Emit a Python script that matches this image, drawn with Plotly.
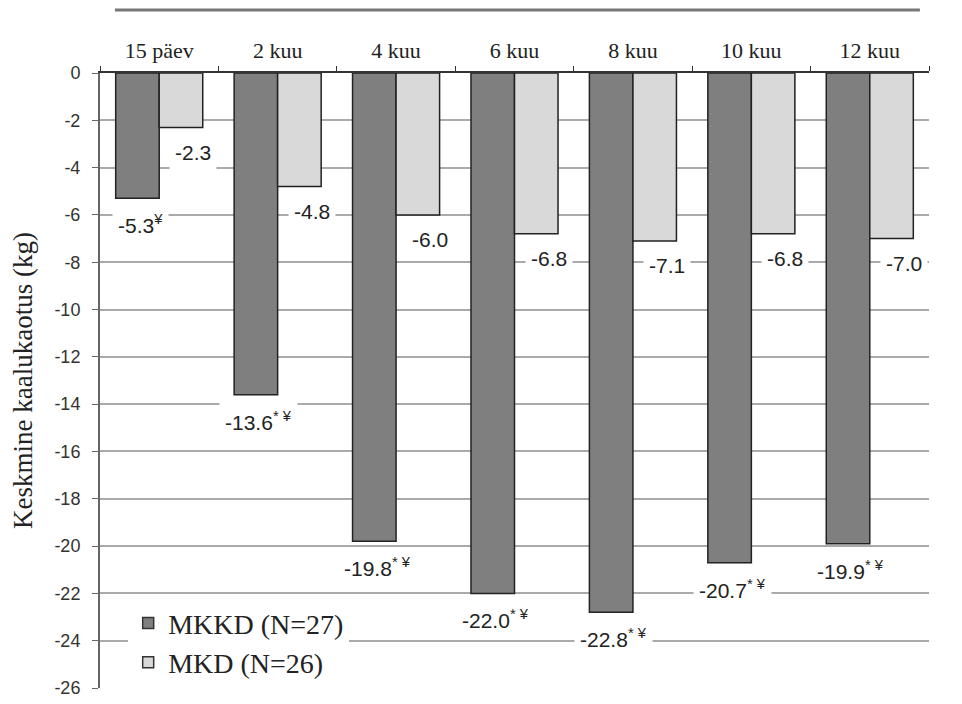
import plotly.graph_objects as go

categories = ["15 päev", "2 kuu", "4 kuu", "6 kuu", "8 kuu", "10 kuu", "12 kuu"]
mkkd = [-5.3, -13.6, -19.8, -22.0, -22.8, -20.7, -19.9]
mkd = [-2.3, -4.8, -6.0, -6.8, -7.1, -6.8, -7.0]
mkkd_marks = ["¥", "* ¥", "* ¥", "* ¥", "* ¥", "* ¥", "* ¥"]
series_names = ["MKKD (N=27)", "MKD (N=26)"]
series_colors = ["#7f7f7f", "#d9d9d9"]
y_ticks = [0, -2, -4, -6, -8, -10, -12, -14, -16, -18, -20, -22, -24, -26]
y_title = "Keskmine kaalukaotus (kg)"

fig = go.Figure()
for vals, col in zip([mkkd, mkd], series_colors):
    fig.add_trace(go.Bar(x=categories, y=vals, showlegend=False,
                         marker=dict(color=col, line=dict(color="#222222", width=1.5))))
# legend entries with small square symbols
for nm, col in zip(series_names, series_colors):
    fig.add_trace(go.Scatter(x=[None], y=[None], mode="markers", name=nm,
                             marker=dict(symbol="square", size=11, color=col,
                                         line=dict(color="#333333", width=1.5))))

label_font = dict(family="Liberation Sans, Arial", size=21, color="#222222")
for c, v, m in zip(categories, mkkd, mkkd_marks):
    fig.add_annotation(x=c, y=v, xref="x", yref="y", showarrow=False,
                       text=f"{v:.1f}<sup>{m}</sup>", font=label_font,
                       xshift=-19, yshift=-26, bgcolor="white", borderpad=5)
for c, v in zip(categories, mkd):
    fig.add_annotation(x=c, y=v, xref="x", yref="y", showarrow=False,
                       text=f"{v:.1f}", font=label_font,
                       xshift=34, yshift=-25, bgcolor="white", borderpad=5)

fig.add_shape(type="line", xref="paper", yref="paper", x0=0.018, x1=0.989,
              y0=1.1024, y1=1.1024, line=dict(color="#777777", width=3))

fig.update_layout(
    width=954, height=696,
    margin=dict(l=92, r=33, t=65, b=16),
    paper_bgcolor="white", plot_bgcolor="white",
    barmode="group", bargap=0.265, bargroupgap=0,
    showlegend=True,
    legend=dict(x=0.034, y=0.146, xanchor="left", yanchor="top",
                bgcolor="white", font=dict(family="Liberation Serif, Times New Roman", size=28, color="#222222"),
                tracegroupgap=0, itemwidth=30),
    xaxis=dict(side="top", type="category", showline=True, linecolor="#333333", linewidth=2,
               ticks="outside", tickson="boundaries", ticklen=5, tickcolor="#333333",
               ticklabelstandoff=4,
               tickfont=dict(family="Liberation Serif, Times New Roman", size=22, color="#222222"),
               showgrid=False, fixedrange=True, automargin=False),
    yaxis=dict(range=[-26, 0], tickvals=y_ticks, ticktext=[str(t) for t in y_ticks],
               showline=True, linecolor="#666666", linewidth=2,
               ticks="outside", ticklen=6, tickcolor="#666666",
               ticklabelstandoff=8,
               showgrid=True, gridcolor="#aaaaaa", gridwidth=1.5, zeroline=False,
               tickfont=dict(family="Liberation Sans, Arial", size=18, color="#333333"),
               automargin=False,
               title=dict(text=y_title, standoff=14,
                          font=dict(family="Liberation Serif, Times New Roman", size=27, color="#222222"))),
)
fig.write_html("out.html")
